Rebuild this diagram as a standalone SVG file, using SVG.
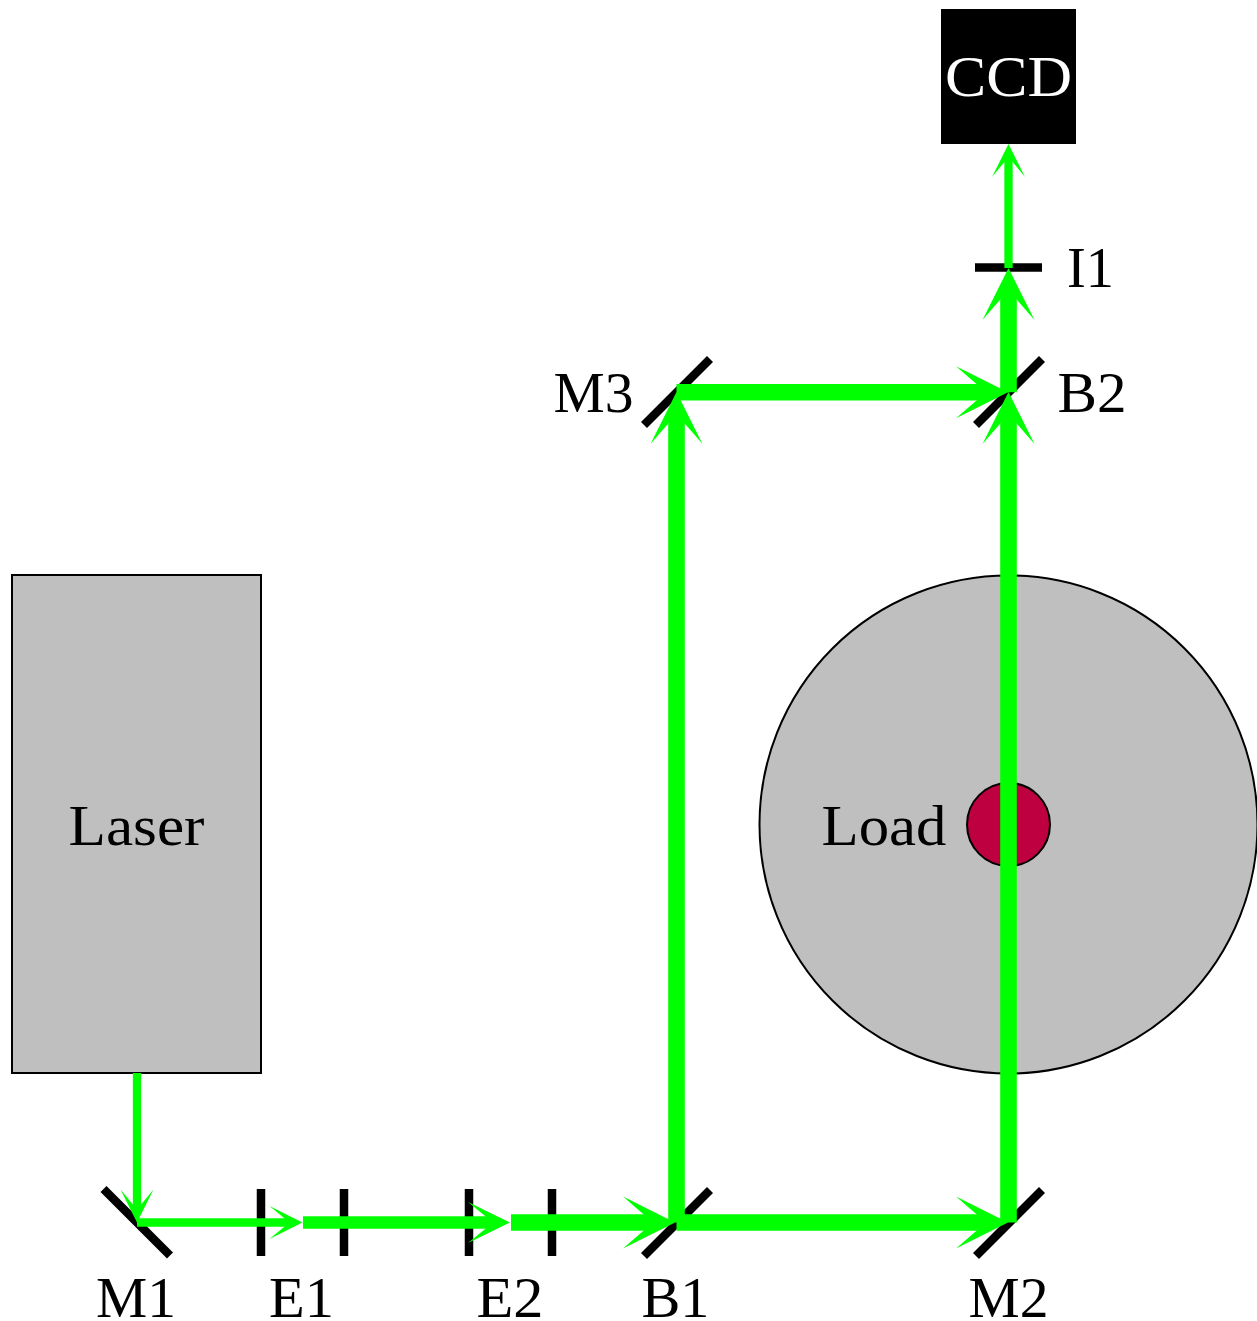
<svg xmlns="http://www.w3.org/2000/svg" xmlns:xlink="http://www.w3.org/1999/xlink" width="1257" height="1321" viewBox="0 0 1257 1321">
<style>
text{font-family:"Liberation Serif","DejaVu Serif",serif;font-size:58px;fill:#000;text-anchor:middle}
.body{fill:#bfbfbf;stroke:#000;stroke-width:2}
.optic{fill:none;stroke:#000;stroke-width:8.500}
.beam{fill:none;stroke:#00ff00}
.b1{stroke-width:8.300}.b2{stroke-width:12.300}.b3{stroke-width:16.600}
.head{fill:#00ff00;stroke:none}
</style>
<defs>
<path id="h1" class="head" d="M0 0L-33 -16.500L-13 0L-33 16.500Z"/>
<path id="h2" class="head" d="M0 0L-42 -20.500L-17 0L-42 20.500Z"/>
<path id="h3" class="head" d="M0 0L-52 -26L-22 0L-52 26Z"/>
</defs>
<g id="laser"><rect class="body" x="12" y="575" width="249" height="498"/><text x="136.500" y="845" textLength="136" lengthAdjust="spacingAndGlyphs">Laser</text></g>
<g id="load"><circle class="body" cx="1008.500" cy="824.500" r="249"/><circle cx="1008.500" cy="824.500" r="41.500" fill="#bf0040" stroke="#000" stroke-width="2"/><text x="884" y="845" textLength="125" lengthAdjust="spacingAndGlyphs">Load</text></g>
<g id="ccd"><rect x="941" y="9" width="135" height="135" fill="#000"/><text x="1008.500" y="96" style="fill:#fff" textLength="127" lengthAdjust="spacingAndGlyphs">CCD</text></g>
<g id="m1"><path class="optic" d="M103.500 1189L170 1255.500"/><text x="136" y="1317" textLength="80" lengthAdjust="spacingAndGlyphs">M1</text></g>
<g id="e1"><path class="optic" d="M261 1189V1256M344 1189V1256"/><text x="301.500" y="1317" textLength="65" lengthAdjust="spacingAndGlyphs">E1</text></g>
<g id="e2"><path class="optic" d="M469 1189V1256M552 1189V1256"/><text x="510" y="1317" textLength="67" lengthAdjust="spacingAndGlyphs">E2</text></g>
<g id="b1"><path class="optic" d="M710 1190L644 1256"/><text x="675.500" y="1317" textLength="68" lengthAdjust="spacingAndGlyphs">B1</text></g>
<g id="m2"><path class="optic" d="M1042 1190L976 1256"/><text x="1008.500" y="1317" textLength="80" lengthAdjust="spacingAndGlyphs">M2</text></g>
<g id="m3"><path class="optic" d="M710 359L644 425"/><text x="593.500" y="412" textLength="80" lengthAdjust="spacingAndGlyphs">M3</text></g>
<g id="b2"><path class="optic" d="M1042 359L976 425"/><text x="1092" y="412" textLength="69" lengthAdjust="spacingAndGlyphs">B2</text></g>
<g id="i1"><path class="optic" d="M975 267.500H1042"/><text x="1090.500" y="287" textLength="47" lengthAdjust="spacingAndGlyphs">I1</text></g>
<g id="connectors">
<path class="beam b1" d="M137 1073V1212.500"/><use xlink:href="#h1" href="#h1" transform="translate(137 1222.500) rotate(90)"/>
<path class="beam b1" d="M137 1222.500H292.500"/><use xlink:href="#h1" href="#h1" transform="translate(302.500 1222.500)"/>
<path class="beam b2" d="M303 1222.500H496"/><use xlink:href="#h2" href="#h2" transform="translate(510 1222.500)"/>
<path class="beam b3" d="M511 1222.500H655"/><use xlink:href="#h3" href="#h3" transform="translate(675 1222.500)"/>
<path class="beam b3" d="M676.500 1222.500V412"/><use xlink:href="#h3" href="#h3" transform="translate(676.500 392) rotate(-90)"/>
<path class="beam b3" d="M676.500 1222.500H988"/><use xlink:href="#h3" href="#h3" transform="translate(1008 1222.500)"/>
<path class="beam b3" d="M676.500 392.300H988"/><use xlink:href="#h3" href="#h3" transform="translate(1008 392.300)"/>
<path class="beam b3" d="M1008.500 1222.500V412"/><use xlink:href="#h3" href="#h3" transform="translate(1008.500 392) rotate(-90)"/>
<path class="beam b3" d="M1008.500 392.300V288"/><use xlink:href="#h3" href="#h3" transform="translate(1008.500 268) rotate(-90)"/>
<path class="beam b1" d="M1008.500 268V154"/><use xlink:href="#h1" href="#h1" transform="translate(1008.500 144) rotate(-90)"/>
</g>
</svg>
